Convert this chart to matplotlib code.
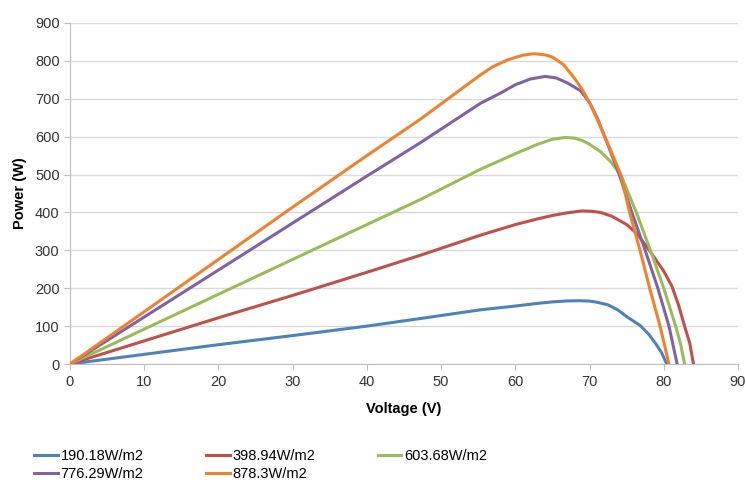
import matplotlib
matplotlib.use("Agg")
import matplotlib.pyplot as plt

plt.rcParams['font.family'] = ['Liberation Sans', 'DejaVu Sans']

# irradiance levels (legend labels)
labels = ["190.18W/m2", "398.94W/m2", "603.68W/m2", "776.29W/m2", "878.3W/m2"]
colors = ["#4F81BD", "#C0504D", "#9BBB59", "#8064A2", "#F0822F"]

# voltage / power points
v_190 = [0, 10, 20, 30, 40, 47.2, 55.3, 60, 63, 65, 67, 68.7, 70, 71, 72.5, 73.8, 75, 76.8, 78, 78.9, 79.7, 80.4]
p_190 = [0, 25.5, 51, 75, 100, 120, 143, 153, 160, 164, 166.5, 167, 166, 163, 156, 143, 125, 102, 78, 54, 30, 0]

v_399 = [0, 10, 20, 30, 40, 47.2, 55.3, 60, 63, 65, 67, 69.0, 70.3, 71.5, 73, 75, 76.4, 78.2, 80, 81.1, 82, 82.8, 83.5, 84.0]
p_399 = [0, 61, 122, 181, 242, 287, 340, 368, 383, 392, 399, 404, 403, 400, 390, 368, 344, 296, 245, 205, 155, 100, 55, 0]

v_604 = [0, 10, 20, 30, 40, 47.2, 55.3, 60, 63, 65, 66.7, 68, 69, 70, 71.5, 72.8, 74.2, 76.3, 78.2, 80.0, 81.6, 82.3, 82.8]
p_604 = [0, 92, 184, 276, 368, 434, 514, 555, 580, 593, 598, 596, 590, 580, 560, 535, 500, 400, 300, 200, 100, 50, 0]

v_776 = [0, 10, 20, 30, 40, 47.2, 55.3, 58, 60, 62, 64.0, 65.5, 67, 68.8, 70, 71.0, 72.6, 74.0, 75.7, 77.5, 79.2, 80.7, 81.8]
p_776 = [0, 124, 248, 372, 496, 584, 688, 715, 737, 752, 759, 755, 742, 721, 690, 651, 572, 500, 400, 300, 200, 100, 0]

v_878 = [0, 10, 20, 30, 40, 47.2, 55.3, 57, 59, 61, 62.5, 64, 65, 66.5, 67.9, 69, 70.1, 71.4, 72.6, 74.2, 75.4, 76.8, 78.1, 79.5, 80.7]
p_878 = [0, 138, 276, 414, 550, 646, 763, 785, 803, 815, 819, 816, 810, 790, 756, 725, 686, 630, 576, 500, 400, 300, 200, 100, 0]

voltages = [v_190, v_399, v_604, v_776, v_878]
powers = [p_190, p_399, p_604, p_776, p_878]

fig = plt.figure(figsize=(7.46, 4.83), dpi=100)
ax = fig.add_axes([70 / 746, 1 - 364 / 483, 668 / 746, 341 / 483])

lines = []
for v, p, c, lab in zip(voltages, powers, colors, labels):
    ln, = ax.plot(v, p, color=c, lw=2.2, label=lab, zorder=3,
                  solid_joinstyle='round')
    lines.append(ln)

ax.set_xlim(0, 90)
ax.set_ylim(0, 900)
ax.set_xticks(range(0, 91, 10))
ax.set_yticks(range(0, 901, 100))
ax.grid(axis='y', color='#D9D9D9', lw=1, zorder=0)

for s in ['top', 'right']:
    ax.spines[s].set_visible(False)
for s in ['left', 'bottom']:
    ax.spines[s].set_color('#BFBFBF')
ax.tick_params(axis='both', colors='#BFBFBF', labelcolor='#333333', labelsize=10.5, length=4)
ax.tick_params(axis='x', pad=4)

ax.set_xlabel('Voltage (V)', fontsize=10.5, fontweight='bold', labelpad=9)
ax.set_ylabel('Power (W)', fontsize=10.5, fontweight='bold', labelpad=6)

# row-major legend order: 190, 398, 603 / 776, 878
order = [0, 3, 1, 4, 2]
fig.legend([lines[i] for i in order], [labels[i] for i in order],
           loc='upper left', bbox_to_anchor=(27 / 746, 1 - 442 / 483),
           ncol=3, frameon=False, fontsize=10.5, handlelength=1.6,
           handletextpad=0.2, columnspacing=4.3, labelspacing=0.25, borderpad=0)

fig.savefig('out.png', dpi=100)
